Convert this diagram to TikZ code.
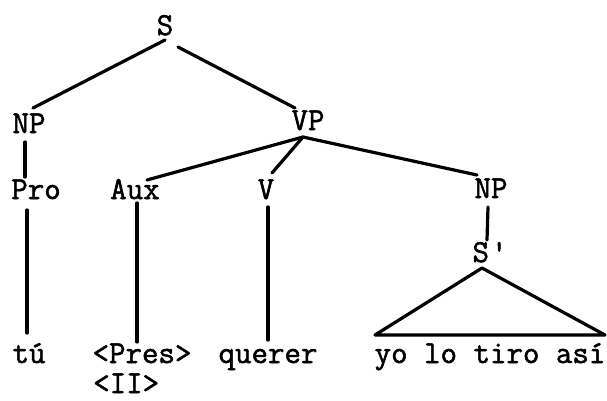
\documentclass[tikz,border=0pt]{standalone}
\usepackage{fontspec}
\newfontfamily\typew{Latin Modern Mono}[FakeBold=1.6]
\usetikzlibrary{calc}
\begin{document}
\begin{tikzpicture}[x=1pt,y=-1pt,
  lbl/.style={font=\fontsize{32}{36}\typew,inner sep=0pt,anchor=base},
  edge/.style={line width=3.2pt,line cap=round,line join=round}]
\useasboundingbox (0,0) rectangle (607,400);
\node[lbl] (S) at (165,35) {S};
\node[lbl] (NPa) at (29,133) {NP};
\node[lbl] (VP) at (308,130) {VP};
\node[lbl] (Pro) at (36,199) {Pro};
\node[lbl] (Aux) at (135,199) {Aux};
\node[lbl] (V) at (266,199) {V};
\node[lbl] (NPb) at (491,198) {NP};
\node[lbl] (Sp) at (490,262) {S\kern2pt'};
\node[lbl] (tu) at (29,363) {tú};
\node[lbl] (Pres) at (142,363) {<Pres>};
\node[lbl,anchor=base west] (II) at (93,393) {<II>};
\node[lbl] (querer) at (268,363) {querer};
\node[lbl] (yo) at (490,363) {yo lo tiro así};
\draw[edge] ($(S.base)+(0,5)$) -- ($(NPa.base)+(4,-25)$);
\draw[edge] ($(S.base)+(13,12)$) -- ($(VP.base)+(-13,-22)$);
\draw[edge] ($(NPa.base)+(-4,9)$) -- ($(Pro.base)+(-11,-22)$);
\draw[edge] ($(VP.base)+(-5,7)$) -- ($(Aux.base)+(12,-19)$);
\draw[edge] ($(VP.base)+(-5,7)$) -- ($(V.base)+(6,-26)$);
\draw[edge] ($(VP.base)+(-5,7)$) -- ($(NPb.base)+(-14,-23)$);
\draw[edge] ($(NPb.base)+(-3,9)$) -- ($(Sp.base)+(-3,-22)$);
\draw[edge] ($(Pro.base)+(-9,11)$) -- ($(tu.base)+(-2,-30)$);
\draw[edge] ($(Aux.base)+(2,4)$) -- ($(Pres.base)+(-5,-21)$);
\draw[edge] ($(V.base)+(2,8)$) -- ($(querer.base)+(0,-23)$);
\draw[edge] ($(Sp.base)+(-8,6)$) -- ($(yo.base)+(-115,-28)$) -- ($(yo.base)+(115,-28)$) -- cycle;
\end{tikzpicture}
\end{document}
